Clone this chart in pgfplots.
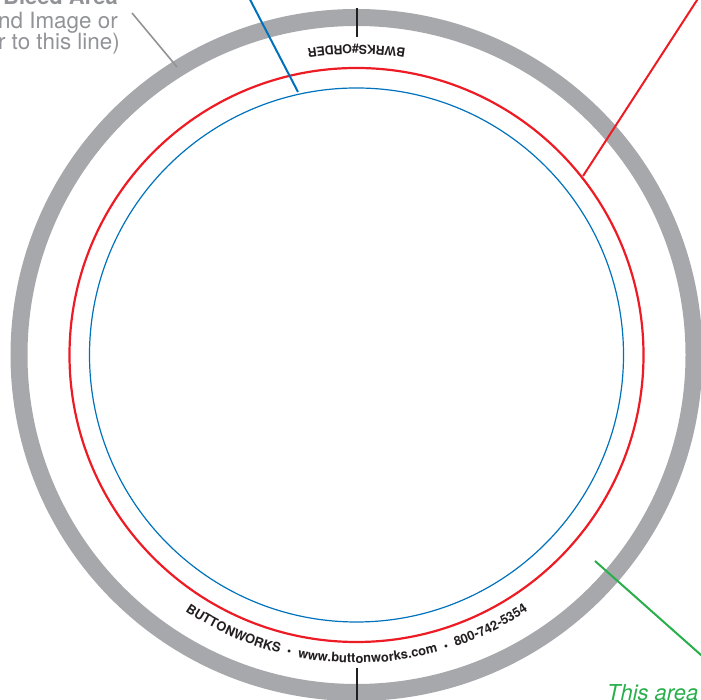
\documentclass[border=0pt]{standalone}
\usepackage{pgfplots}
\pgfplotsset{compat=1.18}
\usepackage{fontspec}
\setmainfont{TeX Gyre Heros}
\usetikzlibrary{calc,decorations.text}
\definecolor{ringgray}{RGB}{167,168,172}
\definecolor{notegray}{RGB}{146,147,151}
\definecolor{cutred}{RGB}{237,28,36}
\definecolor{safeblue}{RGB}{0,114,188}
\definecolor{areagreen}{RGB}{40,175,75}
\definecolor{printblack}{RGB}{35,31,32}

\begin{document}
\begin{tikzpicture}
\begin{axis}[
    name=ax,
    scale only axis,
    width=701bp, height=700bp,
    xmin=0, xmax=701, ymin=0, ymax=700,
    enlargelimits=false,
    hide axis,
    clip=false
  ]
  \coordinate (C) at (axis cs:356.5,345);
  % bleed ring, cut line, safe line
  \draw[ringgray, line width=17bp] (axis cs:356.5,345) circle[radius=337.5bp];
  \draw[cutred, line width=2.2bp] (axis cs:356.5,345) circle[radius=287bp];
  \draw[safeblue, line width=1.2bp] (axis cs:356.5,345) circle[radius=267bp];

  % registration ticks
  \addplot[printblack, line width=1.3bp] coordinates {(357,692) (357,663)};
  \addplot[printblack, line width=1.3bp] coordinates {(357,32) (357,-10)};

  % leader lines
  \addplot[notegray, line width=1.6bp] coordinates {(132,687) (177,633)};
  \addplot[safeblue, line width=2bp] coordinates {(298,608) (244,712)};
  \addplot[cutred, line width=2bp] coordinates {(583,524) (701,706)};
  \addplot[areagreen, line width=2bp] coordinates {(595,139) (710,37)};

  % notes
  \node[anchor=base east, inner sep=0, text=notegray,
        font=\bfseries\fontsize{22}{22}\selectfont] at (axis cs:118,695) {Bleed Area};
  \node[anchor=base east, inner sep=0, text=notegray,
        font=\fontsize{22.5}{22.5}\selectfont] at (axis cs:118,671) {(Extend Background Image or};
  \node[anchor=base east, inner sep=0, text=notegray,
        font=\fontsize{22.5}{22.5}\selectfont] at (axis cs:120,650) {Color to this line)};
  \node[anchor=base west, inner sep=0, text=areagreen,
        font=\itshape\fontsize{22}{22}\selectfont] at (axis cs:607,-1) {This area will be cut off};
\end{axis}

% curved imprint texts
\path[decorate, decoration={text along path, text align=center,
    text={|\color{printblack}\bfseries\fontsize{13}{13}\selectfont|BUTTONWORKS{~}{~}{\large•}{~}{~}www.buttonworks.com{~}{~}{\large•}{~}{~}800-742-5354}}]
  ($(C)+(234:308bp)$) arc[start angle=234, end angle=306, radius=308bp];
\path[decorate, decoration={text along path, text align=center,
    text={|\color{printblack}\bfseries\fontsize{12.5}{12.5}\selectfont|BWRKS{\#}ORDER}}]
  ($(C)+(70:310bp)$) arc[start angle=70, end angle=110, radius=310bp];

\pgfresetboundingbox
\path[use as bounding box] (ax.south west) rectangle (ax.north east);
\end{tikzpicture}
\end{document}
